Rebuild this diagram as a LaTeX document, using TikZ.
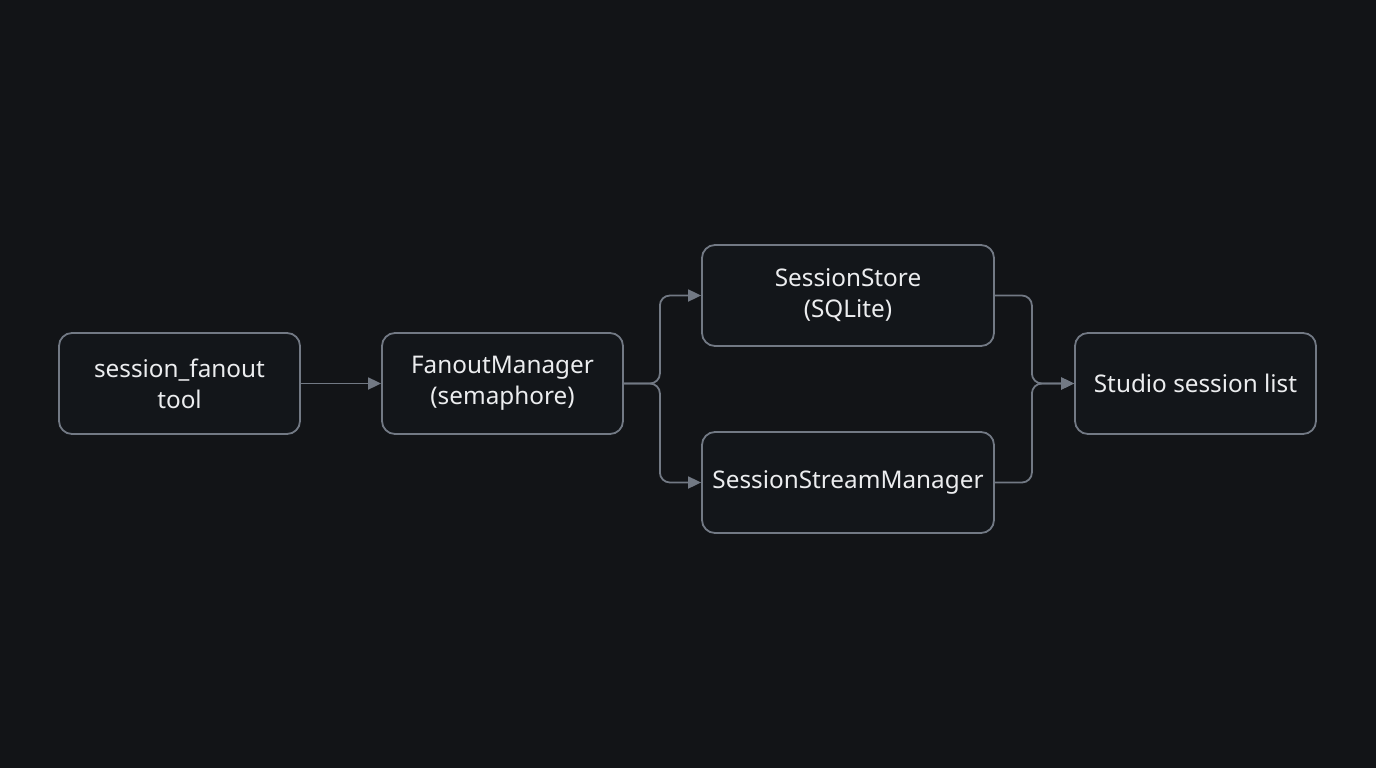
\documentclass[tikz,border=0pt]{standalone}
\usepackage{fontspec}
\setmainfont{Noto Sans}
\usetikzlibrary{arrows.meta}
\definecolor{bg}{HTML}{121417}
\definecolor{edge}{HTML}{727984}
\definecolor{boxfill}{HTML}{13161A}
\definecolor{txt}{HTML}{ECEDEF}
\begin{document}
\begin{tikzpicture}[x=1pt,y=-1pt,
  box/.style={draw=edge,line width=1.8pt,fill=boxfill,rounded corners=13pt,minimum height=101pt,text=txt,font=\fontsize{24.3}{31}\selectfont,align=center,inner sep=0pt},
  w241/.style={minimum width=241pt},
  w292/.style={minimum width=292pt},
  conn/.style={draw=edge,line width=1.8pt,rounded corners=10pt,-{Triangle[length=13pt,width=12pt]}}]
\fill[bg] (0,0) rectangle (1376,768);
\useasboundingbox (0,0) rectangle (1376,768);
\node[box,w241] (a) at (179.5,383.5) {session\_fanout\\tool};
\node[box,w241] (b) at (502.5,383.5) {FanoutManager\\(semaphore)};
\node[box,w292] (c) at (848,295.5) {SessionStore\\(SQLite)};
\node[box,w292] (d) at (848,482.5) {SessionStreamManager};
\node[box,w241] (e) at (1195.5,383.5) {Studio session list};
\draw[conn] (a.east) -- (b.west);
\draw[conn] (b.east) -- ++(36,0) |- (c.west);
\draw[conn] (b.east) -- ++(36,0) |- (d.west);
\draw[conn] (c.east) -- ++(37,0) |- (e.west);
\draw[conn] (d.east) -- ++(37,0) |- (e.west);
\end{tikzpicture}
\end{document}
